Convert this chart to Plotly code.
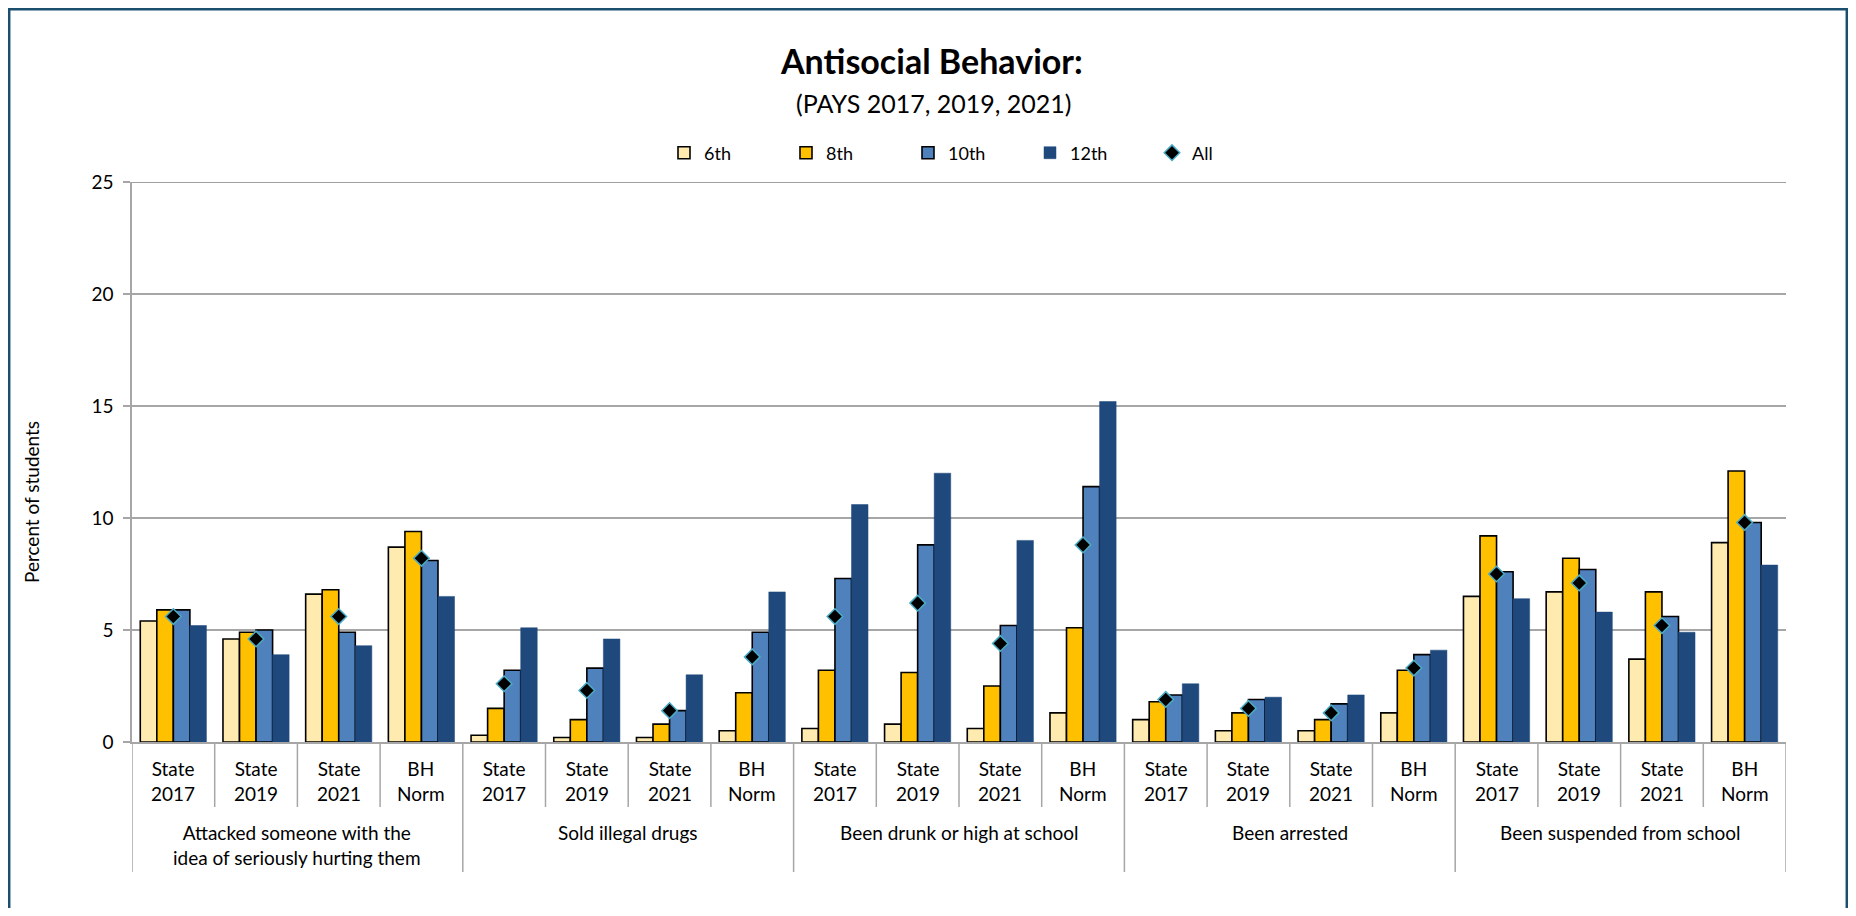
import plotly.graph_objects as go

# ---------------- data ----------------
groups = [
    "Attacked someone with the<br>idea of seriously hurting them",
    "Sold illegal drugs",
    "Been drunk or high at school",
    "Been arrested",
    "Been suspended from school",
]
subcats = ["State<br>2017", "State<br>2019", "State<br>2021", "BH<br>Norm"]

grade6 = [5.4, 4.6, 6.6, 8.7,  0.3, 0.2, 0.2, 0.5,  0.6, 0.8, 0.6, 1.3,  1.0, 0.5, 0.5, 1.3,  6.5, 6.7, 3.7, 8.9]
grade8 = [5.9, 4.9, 6.8, 9.4,  1.5, 1.0, 0.8, 2.2,  3.2, 3.1, 2.5, 5.1,  1.8, 1.3, 1.0, 3.2,  9.2, 8.2, 6.7, 12.1]
grade10 = [5.9, 5.0, 4.9, 8.1, 3.2, 3.3, 1.4, 4.9,  7.3, 8.8, 5.2, 11.4, 2.1, 1.9, 1.7, 3.9,  7.6, 7.7, 5.6, 9.8]
grade12 = [5.2, 3.9, 4.3, 6.5, 5.1, 4.6, 3.0, 6.7,  10.6, 12.0, 9.0, 15.2, 2.6, 2.0, 2.1, 4.1, 6.4, 5.8, 4.9, 7.9]
all_grades = [5.6, 4.6, 5.6, 8.2, 2.6, 2.3, 1.4, 3.8, 5.6, 6.2, 4.4, 8.8, 1.9, 1.5, 1.3, 3.3, 7.5, 7.1, 5.2, 9.8]

series_names = ["6th", "8th", "10th", "12th"]
y_ticks = [0, 5, 10, 15, 20, 25]

# ---------------- build ----------------
cats = [f"{g}|{s}" for g in groups for s in subcats]
n_sub = len(subcats)

FONT = "Lato"
colors = ["#FFEBAF", "#FFC000", "#4F81BD", "#1F497D"]
outlines = ["#000000", "#000000", "#000000", "#1F497D"]
owidth = [1.6, 1.6, 1.6, 0.5]

fig = go.Figure()
for name, vals, c, oc, ow in zip(series_names, [grade6, grade8, grade10, grade12], colors, outlines, owidth):
    fig.add_trace(go.Bar(x=cats, y=vals, name=name,
                         marker=dict(color=c, line=dict(color=oc, width=ow))))
fig.add_trace(go.Scatter(x=cats, y=all_grades, name="All", mode="markers",
                         marker=dict(symbol="diamond", size=12, color="#000000",
                                     line=dict(color="#4BACC6", width=1.5))))

# geometry: page has an 8px body margin, so figure coords = page coords - 8
OFF = 8
W, H = 1840, 900
L, R, T, B = 132 - OFF, 1786 - OFF, 182 - OFF, 742 - OFF
ph = B - T
pw = R - L


def py(p):  # page pixel y -> paper
    return (B - (p - OFF)) / ph


def px(p):  # page pixel x -> paper
    return (p - OFF - L) / pw


annotations = []
shapes = []
LAB = 19
# inner labels
for i, c in enumerate(cats):
    annotations.append(dict(x=i, y=py(755), xref="x", yref="paper", text=subcats[i % n_sub],
                            showarrow=False, yanchor="top", xanchor="center",
                            font=dict(family=FONT, size=LAB, color="#000")))
# group labels
for gi, g in enumerate(groups):
    annotations.append(dict(x=gi * n_sub + (n_sub - 1) / 2, y=py(819), xref="x", yref="paper",
                            text=g, showarrow=False, yanchor="top", xanchor="center",
                            font=dict(family=FONT, size=LAB, color="#000")))
# dividers
for k in range(len(cats) + 1):
    is_group = (k % n_sub == 0)
    shapes.append(dict(type="line", xref="x", yref="paper", x0=k - 0.5, x1=k - 0.5,
                       y0=0, y1=py(872 if is_group else 807),
                       line=dict(color="#A6A6A6", width=1.5)))
# top gridline (25)
shapes.append(dict(type="line", xref="paper", yref="y", x0=0, x1=1, y0=y_ticks[-1], y1=y_ticks[-1],
                   line=dict(color="#A0A0A0", width=2)))

# titles
annotations.append(dict(x=px(931), y=py(60), xref="paper", yref="paper",
                        text="<b>Antisocial Behavior:</b>", showarrow=False,
                        yanchor="middle", xanchor="center",
                        font=dict(family=FONT, size=34, color="#000")))
annotations.append(dict(x=px(933), y=py(103), xref="paper", yref="paper",
                        text="(PAYS 2017, 2019, 2021)", showarrow=False,
                        yanchor="middle", xanchor="center",
                        font=dict(family=FONT, size=25, color="#000")))
annotations.append(dict(x=px(31), y=py(502), xref="paper", yref="paper",
                        text="Percent of students", showarrow=False, textangle=-90,
                        yanchor="middle", xanchor="center",
                        font=dict(family=FONT, size=19, color="#000")))

# outer border
shapes.append(dict(type="rect", xref="paper", yref="paper",
                   x0=px(9.2), x1=px(1846.8), y0=py(9.2), y1=py(940),
                   line=dict(color="#1C4E6E", width=2.5), fillcolor="rgba(0,0,0,0)"))

fig.update_layout(
    width=W, height=H,
    margin=dict(l=L, r=W - R, t=T, b=H - B, pad=0),
    paper_bgcolor="white", plot_bgcolor="white",
    barmode="group", bargap=0.2, bargroupgap=0,
    font=dict(family=FONT, size=18, color="#000"),
    showlegend=True,
    legend=dict(orientation="h", x=px(969), xanchor="center", y=py(153), yanchor="middle",
                font=dict(family=FONT, size=18), entrywidth=77, traceorder="normal"),
    annotations=annotations, shapes=shapes,
)
fig.update_xaxes(type="category", showticklabels=False, ticks="", showgrid=False,
                 showline=True, linecolor="#A6A6A6", linewidth=1.5,
                 range=[-0.5, len(cats) - 0.5])
fig.update_yaxes(range=[0, 25], tickvals=y_ticks, showgrid=True, gridcolor="#A6A6A6", gridwidth=1.5,
                 showline=True, linecolor="#A6A6A6", linewidth=1.5, ticks="outside", ticklen=7,
                 tickcolor="#A6A6A6", tickwidth=1.5, zeroline=False,
                 tickfont=dict(family=FONT, size=19), ticklabelstandoff=6)

fig.write_html("out.html")
